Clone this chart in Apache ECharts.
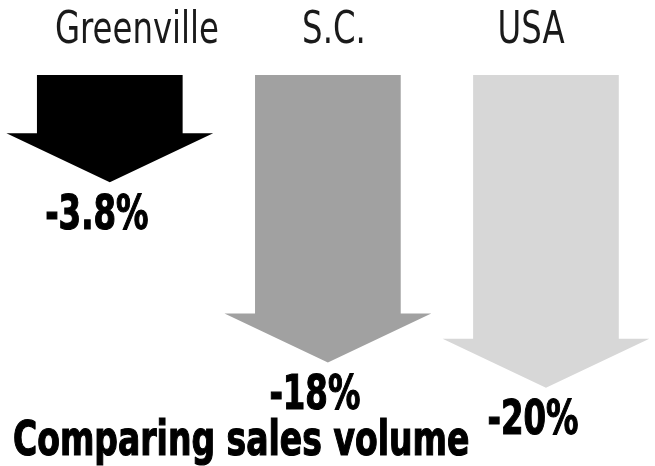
<!DOCTYPE html>
<html><head><meta charset="utf-8">
<script src="https://cdn.jsdelivr.net/npm/echarts@6/dist/echarts.min.js"></script>
<style>html,body{margin:0;padding:0;background:#fff}#c{width:655px;height:466px}</style>
</head><body><div id="c"></div>
<script>
// ---- data ----
const categories = ['Greenville', 'S.C.', 'USA'];
const changes = [-3.8, -18, -20];
const chartTitle = 'Comparing sales volume';

// ---- styling ----
const palette = ['#000000', '#a1a1a1', '#d7d7d7'];
const FONT = '"DejaVu Sans Condensed", "DejaVu Sans", sans-serif';
const Y_MAX = 0.8, Y_MIN = -25;

function fmt(v) { return v + '%'; }

function renderArrow(params, api) {
  const i = api.value(0);
  const v = api.value(1);
  const cx = api.coord([i, 0])[0];
  const top = api.coord([i, Y_MAX])[1];
  const bottom = api.coord([i, v])[1];
  const band = api.size([1, 0])[0];
  const sw = band * 0.668 / 2, hw = band * 0.948 / 2, hh = 49;
  const tip = bottom + hh;
  return {
    type: 'group',
    children: [
      { type: 'polygon',
        shape: { points: [[cx - sw, top], [cx + sw, top], [cx + sw, bottom], [cx + hw, bottom], [cx, tip], [cx - hw, bottom], [cx - sw, bottom]] },
        style: { fill: palette[params.dataIndex] } },
      { type: 'text', x: cx - 13, y: tip + 34, scaleX: 0.75,
        style: { text: fmt(v), x: 0, y: 0, align: 'center', verticalAlign: 'middle',
                 fill: '#000', stroke: '#000', lineWidth: 1.2,
                 fontSize: 48, fontWeight: 'bold', fontFamily: FONT } }
    ]
  };
}

function renderHeader(params, api) {
  const i = api.value(0);
  const cx = api.coord([i, 0])[0];
  const cy = params.coordSys.y;
  return { type: 'text', x: cx, y: cy, scaleX: 0.80,
    style: { text: categories[params.dataIndex], x: 0, y: 0, align: 'center', verticalAlign: 'middle',
             fill: '#1a1a1a', fontSize: 45, fontFamily: FONT } };
}

const chart = echarts.init(document.getElementById('c'), null, { renderer: 'canvas' });
chart.setOption({
  backgroundColor: '#ffffff',
  animation: false,
  grid: [
    { left: 0.75, width: 664.5, top: 75, height: (Y_MAX - Y_MIN) * 12.68 },
    { left: 38.5, width: 591, top: 31, height: 10 }
  ],
  xAxis: [
    { type: 'category', data: categories, gridIndex: 0, show: false },
    { type: 'category', data: categories, gridIndex: 1, show: false }
  ],
  yAxis: [
    { type: 'value', gridIndex: 0, min: Y_MIN, max: Y_MAX, show: false },
    { type: 'value', gridIndex: 1, min: 0, max: 1, show: false }
  ],
  graphic: [{
    type: 'text', x: 13, y: 443, scaleX: 0.765,
    style: { text: chartTitle, x: 0, y: 0, align: 'left', verticalAlign: 'middle',
             fill: '#000', stroke: '#000', lineWidth: 1.2,
             fontSize: 48, fontWeight: 'bold', fontFamily: FONT }
  }],
  series: [{
    type: 'custom', xAxisIndex: 0, yAxisIndex: 0, clip: false,
    renderItem: renderArrow,
    data: categories.map((c, i) => [i, changes[i]])
  }, {
    type: 'custom', xAxisIndex: 1, yAxisIndex: 1, clip: false,
    renderItem: renderHeader,
    data: categories.map((c, i) => [i, 0])
  }]
});
</script>
</body></html>
